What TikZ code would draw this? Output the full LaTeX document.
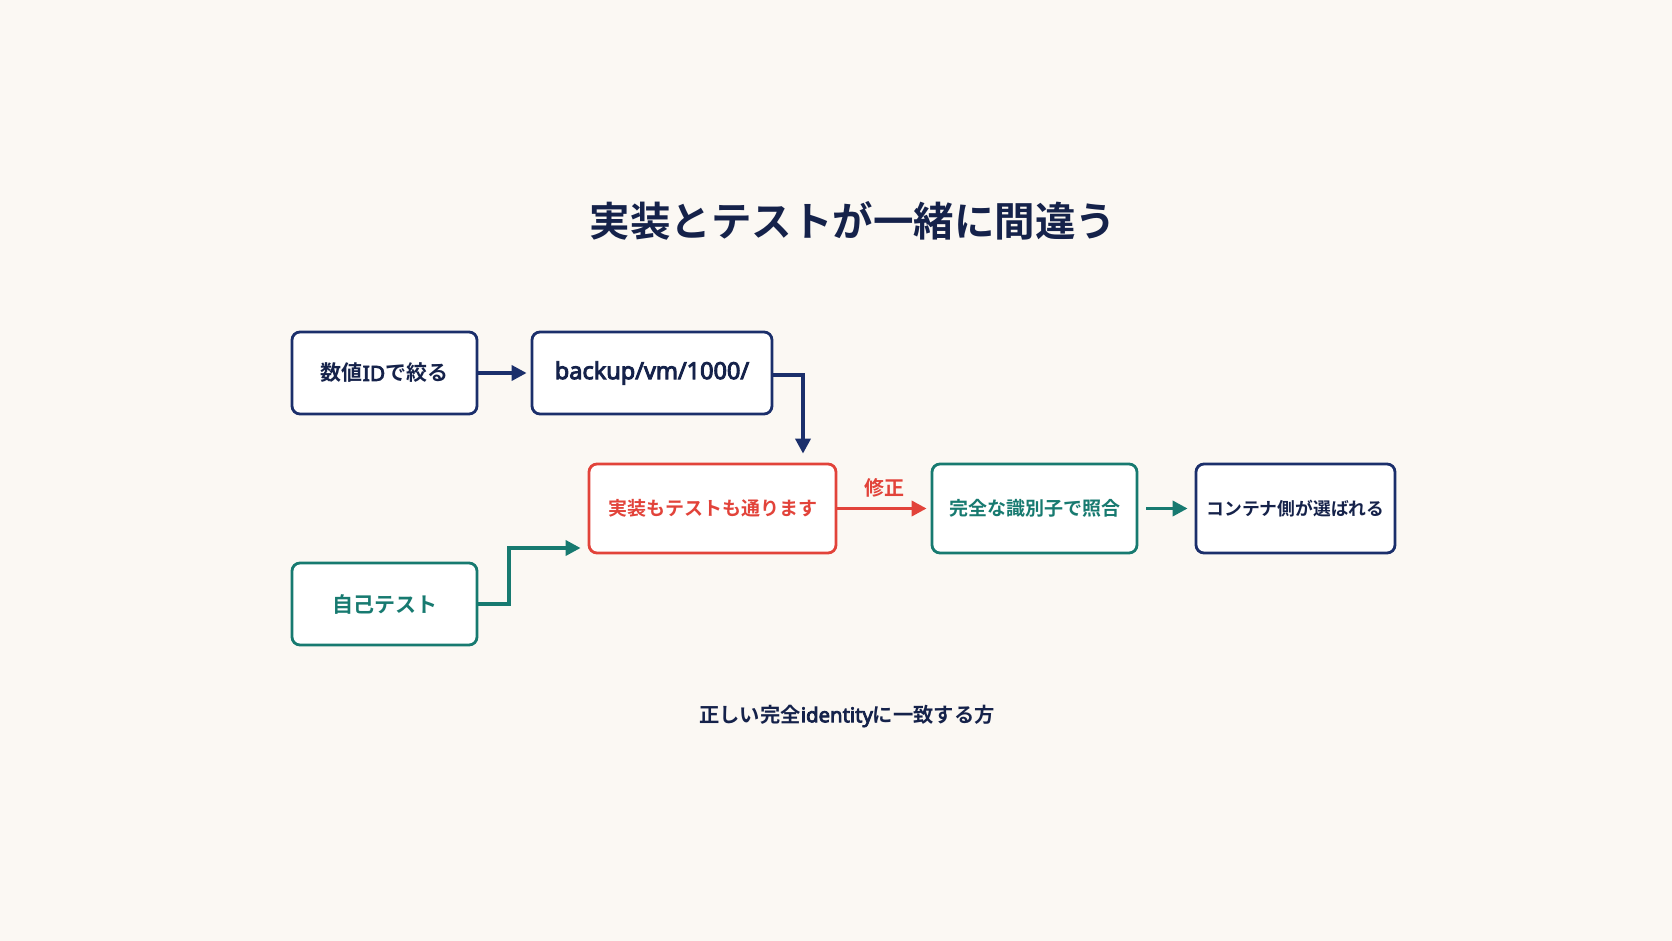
\documentclass[tikz,border=0pt]{standalone}
\usepackage{fontspec}
\setmainfont{Noto Sans CJK JP}[BoldFont={Noto Sans CJK JP Bold}]
\newfontfamily\jpb{Noto Sans CJK JP Bold}
\newfontfamily\latb{Noto Sans}[FakeBold=4]
\usetikzlibrary{arrows.meta,calc}
\definecolor{bgc}{HTML}{FBF8F3}
\definecolor{navy}{HTML}{1B2F6B}
\definecolor{ink}{HTML}{15224A}
\definecolor{redc}{HTML}{E2433A}
\definecolor{teal}{HTML}{177A70}
\tikzset{
  box/.style={draw, line width=2.8pt, rounded corners=8pt, fill=white, align=center,
    font=\jpb\fontsize{19}{22}\selectfont, inner sep=0pt},
  navybox/.style={box, draw=navy, text=ink},
  redbox/.style={box, draw=redc, text=redc},
  tealbox/.style={box, draw=teal, text=teal},
  conn/.style={line width=3.6pt, -{Triangle[length=15pt,width=15pt]}},
}
\begin{document}
\begin{tikzpicture}[x=1pt,y=-1pt]
\fill[bgc] (0,0) rectangle (1672,941);
\useasboundingbox (0,0) rectangle (1672,941);
\node[font=\jpb\fontsize{40.5}{46}\selectfont, text=ink] (title) at (853,221) {実装とテストが一緒に間違う};
\node[navybox, minimum width=185pt, minimum height=82pt, font=\jpb\fontsize{21}{24}\selectfont] (a) at (384.5,373) {数値{\latb ID}で絞る};
\node[navybox, minimum width=240pt, minimum height=82pt, font=\latb\fontsize{23.5}{26}\selectfont] (b) at (652,373) {\raisebox{-2pt}{backup/vm/1000/}};
\node[redbox, minimum width=247pt, minimum height=89pt] (r) at (712.5,508.5) {実装もテストも通ります};
\node[tealbox, minimum width=185pt, minimum height=82pt, font=\jpb\fontsize{21}{24}\selectfont] (s) at (384.5,604) {自己テスト};
\node[tealbox, minimum width=205pt, minimum height=89pt] (t) at (1034.5,508.5) {完全な識別子で照合};
\node[navybox, minimum width=199pt, minimum height=89pt, font=\jpb\fontsize{17.8}{22}\selectfont] (n) at (1295.5,508.5) {コンテナ側が選ばれる};
\node[font=\jpb\fontsize{20.3}{24}\selectfont, text=ink] (foot) at (847,716) {正しい完全{\latb identity}に一致する方};
% connectors
\draw[conn, navy, shorten >=4pt] (a.east) -- (b.west);
\coordinate (bc) at (803,375);
\draw[conn, navy, shorten >=9pt] (b.east |- bc) -- (bc) -- (bc |- r.north);
\coordinate (sc) at (509,548);
\draw[conn, teal, shorten >=7pt] (s.east) -- (sc |- s.east) -- (sc) -- (sc -| r.west);
\draw[conn, redc, shorten >=4pt] (r.east) -- node[above=6pt, font=\jpb\fontsize{20}{24}\selectfont, text=redc] (fix) {修正} (t.west);
\draw[conn, teal, shorten <=8pt, shorten >=7pt] (t.east) -- (n.west);
\end{tikzpicture}
\end{document}
